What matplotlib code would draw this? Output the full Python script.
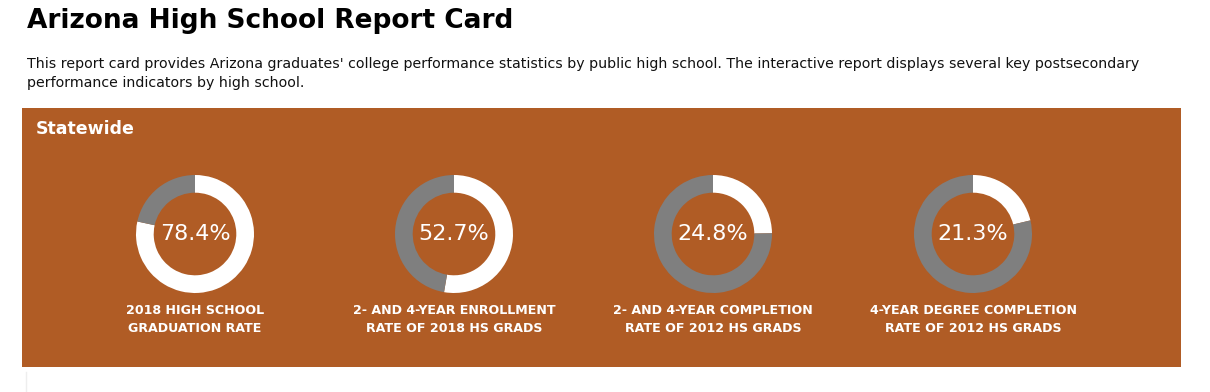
import matplotlib
matplotlib.use("Agg")
import matplotlib.pyplot as plt
from matplotlib.patches import Rectangle

# data
rates = [78.4, 52.7, 24.8, 21.3]
labels = ["2018 HIGH SCHOOL\nGRADUATION RATE",
          "2- AND 4-YEAR ENROLLMENT\nRATE OF 2018 HS GRADS",
          "2- AND 4-YEAR COMPLETION\nRATE OF 2012 HS GRADS",
          "4-YEAR DEGREE COMPLETION\nRATE OF 2012 HS GRADS"]
title = "Arizona High School Report Card"
subtitle = ("This report card provides Arizona graduates' college performance statistics by public high school. "
            "The interactive report displays several key postsecondary\nperformance indicators by high school.")

BROWN = "#B05C25"
GRAY = "#7F7F7F"
W, H = 1210, 392

plt.rcParams['font.family'] = ['DejaVu Sans']
fig = plt.figure(figsize=(W / 100, H / 100), dpi=100)
bg = fig.add_axes([0, 0, 1, 1])
bg.set_xlim(0, W)
bg.set_ylim(H, 0)
bg.axis("off")

bg.text(27, 28, title, fontsize=19, fontweight="bold", color="black", va="baseline", ha="left")
bg.text(27, 73.5, subtitle, fontsize=10.2, color="#111111", va="center", ha="left", linespacing=1.45)

bg.add_patch(Rectangle((22, 108), 1159, 259, color=BROWN, lw=0))
bg.text(36, 129, "Statewide", fontsize=12.5, fontweight="bold", color="white", va="center", ha="left")
bg.plot([26, 26], [372, 392], color="#eeeeee", lw=1)

centers = [195, 454, 713, 973]
cy = 234
r = 59
for cx, val, lab in zip(centers, rates, labels):
    ax = fig.add_axes([(cx - r) / W, (H - cy - r) / H, 2 * r / W, 2 * r / H])
    ax.pie([val, 100 - val], colors=["white", GRAY], startangle=90, counterclock=False,
           radius=1, wedgeprops=dict(width=0.3, linewidth=0))
    ax.set_xlim(-1, 1)
    ax.set_ylim(-1, 1)
    ax.set_aspect("equal")
    ax.axis("off")
    bg.text(cx, cy, f"{val:.1f}%", fontsize=16, color="white",
            ha="center", va="center")
    bg.text(cx, 319.5, lab, fontsize=9.1, fontweight="bold", color="white", ha="center", va="center",
            linespacing=1.45)

fig.savefig("out.png", dpi=100)
